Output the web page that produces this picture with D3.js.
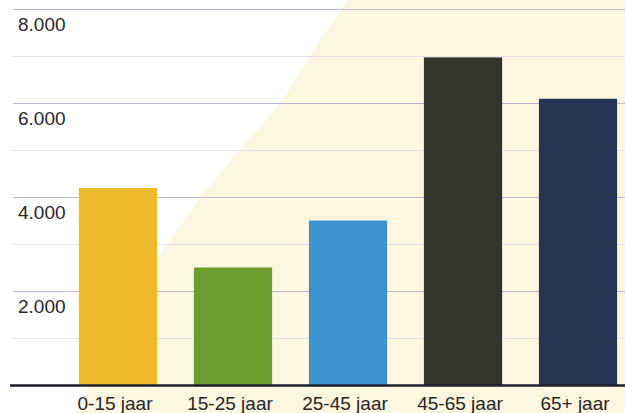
<!DOCTYPE html>
<html>
<head>
<meta charset="utf-8">
<script src="https://cdn.jsdelivr.net/npm/d3@7"></script>
<style>
  html, body { margin: 0; padding: 0; background: #ffffff; }
  svg { display: block; }
</style>
</head>
<body>
<svg id="chart" width="625" height="413"></svg>
<script>
const categories = ["0-15 jaar", "15-25 jaar", "25-45 jaar", "45-65 jaar", "65+ jaar"];
const values = [4190, 2500, 3500, 6970, 6090];
const barColors = ["#ecb92b", "#6d9d2f", "#3c93cf", "#34362b", "#243651"];
const majorTicks = [2000, 4000, 6000, 8000];
const minorTicks = [1000, 3000, 5000, 7000];
const tickLabels = ["2.000", "4.000", "6.000", "8.000"];

const W = 625, H = 413;
const svg = d3.select("#chart");

// pale paper-coloured backdrop (decoration)
svg.append("rect").attr("width", W).attr("height", H).attr("fill", "#ffffff");
svg.append("path")
  .attr("d", d3.line()([[348, 0], [W, 0], [W, H], [75, H], [157, 260], [200, 197], [240, 150], [283, 100], [320, 40]]) + "Z")
  .attr("fill", "#fdf7df");

const y = d3.scaleLinear().domain([0, 8000]).range([385, 9]);
const x = d3.scaleBand().domain(categories).range([60.5, 635.5]).paddingInner(0.32).paddingOuter(0.16);

// minor gridlines
svg.append("g").selectAll("line").data(minorTicks).join("line")
  .attr("x1", 13).attr("x2", W)
  .attr("y1", d => y(d) + 0.5).attr("y2", d => y(d) + 0.5)
  .attr("stroke", "#e6e0ea").attr("stroke-width", 1);

// major gridlines
svg.append("g").selectAll("line").data(majorTicks).join("line")
  .attr("x1", 13).attr("x2", W)
  .attr("y1", d => y(d) + 0.5).attr("y2", d => y(d) + 0.5)
  .attr("stroke", "#bdb6cf").attr("stroke-width", 1.2);

// y tick labels (below their gridline)
svg.append("g").selectAll("text").data(majorTicks).join("text")
  .attr("x", 18).attr("y", d => y(d) + 22)
  .attr("font-family", "Liberation Sans, Arial, sans-serif")
  .attr("font-size", 19).attr("fill", "#26262b")
  .text((d, i) => tickLabels[i]);

// bars
svg.append("g").selectAll("rect").data(values).join("rect")
  .attr("x", (d, i) => x(categories[i]))
  .attr("width", x.bandwidth())
  .attr("y", d => y(d))
  .attr("height", d => y(0) - y(d))
  .attr("fill", (d, i) => barColors[i]);

// baseline
svg.append("line")
  .attr("x1", 10).attr("x2", W)
  .attr("y1", y(0) + 0.5).attr("y2", y(0) + 0.5)
  .attr("stroke", "#1d1f2b").attr("stroke-width", 2.5);

// x labels
svg.append("g").selectAll("text").data(categories).join("text")
  .attr("x", d => x(d) + x.bandwidth() / 2 - 3)
  .attr("y", 410)
  .attr("text-anchor", "middle")
  .attr("font-family", "Liberation Sans, Arial, sans-serif")
  .attr("font-size", 19).attr("fill", "#26262b")
  .text(d => d);
</script>
</body>
</html>
